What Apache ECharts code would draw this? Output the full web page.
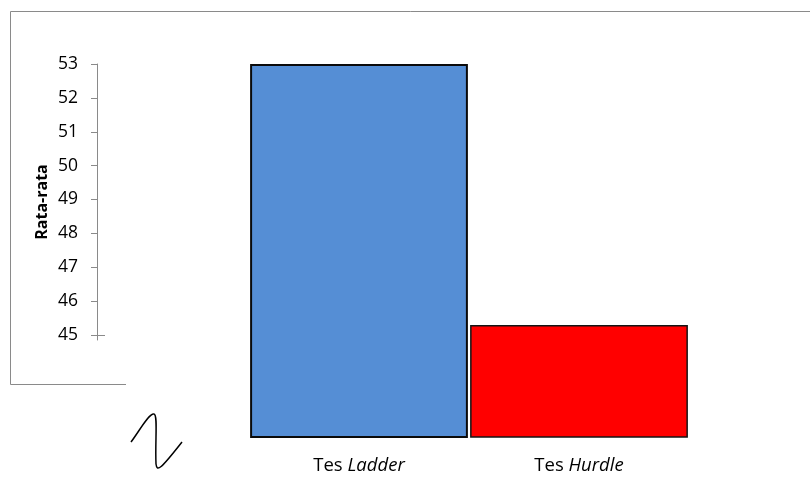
<!DOCTYPE html>
<html>
<head>
<meta charset="utf-8">
<script src="https://cdn.jsdelivr.net/npm/echarts@6/dist/echarts.min.js"></script>
<style>
  html, body { margin: 0; padding: 0; background: #fff; }
  #chart { width: 810px; height: 478px; }
</style>
</head>
<body>
<div id="chart"></div>
<script>
// Mean scores per test
const categories = ['Ladder', 'Hurdle'];
const categoryPrefix = 'Tes';
const means = [53, 45.3];
const barColors = ['#558ED5', '#FF0000'];
const tickValues = [45, 46, 47, 48, 49, 50, 51, 52, 53];
const axisTitle = 'Rata-rata';

const FONT = "'Open Sans', 'Noto Sans', sans-serif";
const AXIS_GREY = '#8a8a8a';

const chart = echarts.init(document.getElementById('chart'), null, { renderer: 'canvas' });

// axis-break squiggle, built from three cubic segments
const breakSegments = [
  { x1: 131, y1: 442, cpx1: 140, cpy1: 430, cpx2: 149, cpy2: 413, x2: 154, y2: 414 },
  { x1: 154, y1: 414, cpx1: 158, cpy1: 415, cpx2: 155, cpy2: 440, x2: 156, y2: 464 },
  { x1: 156, y1: 464, cpx1: 157, cpy1: 472, cpx2: 160, cpy2: 470, x2: 182, y2: 442 }
];

chart.setOption({
  backgroundColor: '#ffffff',
  animation: false,
  grid: [
    // visible value axis (stops a little below 45)
    { left: 97, top: 64, width: 1, height: 276, containLabel: false },
    // bars, drawn from a baseline of 42
    { left: 249, top: 64, width: 440, height: 373, containLabel: false }
  ],
  xAxis: [
    { gridIndex: 0, type: 'value', show: false },
    {
      gridIndex: 1,
      type: 'category',
      data: categories,
      axisLine: { show: false },
      axisTick: { show: false },
      axisLabel: {
        margin: 19,
        formatter: v => '{n|' + categoryPrefix + ' }{i|' + v + '}',
        rich: {
          n: { fontFamily: FONT, fontSize: 18.5, color: '#000' },
          i: { fontFamily: FONT, fontSize: 18.5, fontStyle: 'italic', color: '#000' }
        }
      }
    }
  ],
  yAxis: [
    {
      gridIndex: 0,
      type: 'value',
      position: 'left',
      min: 53 - 276 / 33.875,
      max: 53,
      splitLine: { show: false },
      axisLine: { show: true, lineStyle: { color: AXIS_GREY, width: 1 } },
      axisTick: { show: true, length: 6, customValues: tickValues, lineStyle: { color: AXIS_GREY } },
      axisLabel: {
        customValues: tickValues,
        margin: 19,
        fontFamily: FONT,
        fontSize: 17.5,
        color: '#000'
      },
      name: axisTitle,
      nameLocation: 'middle',
      nameRotate: 90,
      nameGap: 47,
      nameTextStyle: { fontFamily: FONT, fontSize: 16, fontWeight: 'bold', color: '#000' }
    },
    {
      // short inward tick where the category axis crosses at 45
      gridIndex: 0,
      type: 'value',
      position: 'left',
      offset: 0,
      min: 53 - 276 / 33.875,
      max: 53,
      splitLine: { show: false },
      axisLine: { show: false },
      axisLabel: { show: false },
      axisTick: { show: true, inside: true, length: 8, customValues: [45], lineStyle: { color: AXIS_GREY } }
    },
    {
      gridIndex: 1,
      type: 'value',
      min: 42,
      max: 53,
      show: false
    }
  ],
  series: [
    {
      type: 'bar',
      xAxisIndex: 1,
      yAxisIndex: 2,
      barCategoryGap: '1%',
      data: means.map((v, i) => ({
        value: v,
        itemStyle: {
          color: barColors[i],
          borderColor: i === 0 ? '#0a0a0a' : '#141414',
          borderWidth: i === 0 ? 2 : 1.5
        }
      }))
    }
  ],
  graphic: [
    {
      type: 'polyline',
      silent: true,
      shape: { points: [[10.5, 384.5], [10.5, 11.5], [810, 11.5]] },
      style: { stroke: AXIS_GREY, lineWidth: 1, fill: null }
    },
    {
      type: 'line',
      silent: true,
      shape: { x1: 10.5, y1: 384.5, x2: 126, y2: 384.5 },
      style: { stroke: AXIS_GREY, lineWidth: 1 }
    }
  ].concat(breakSegments.map(s => ({
    type: 'bezierCurve',
    silent: true,
    shape: s,
    style: { stroke: '#000', lineWidth: 1.5, fill: null }
  })))
});
</script>
</body>
</html>
